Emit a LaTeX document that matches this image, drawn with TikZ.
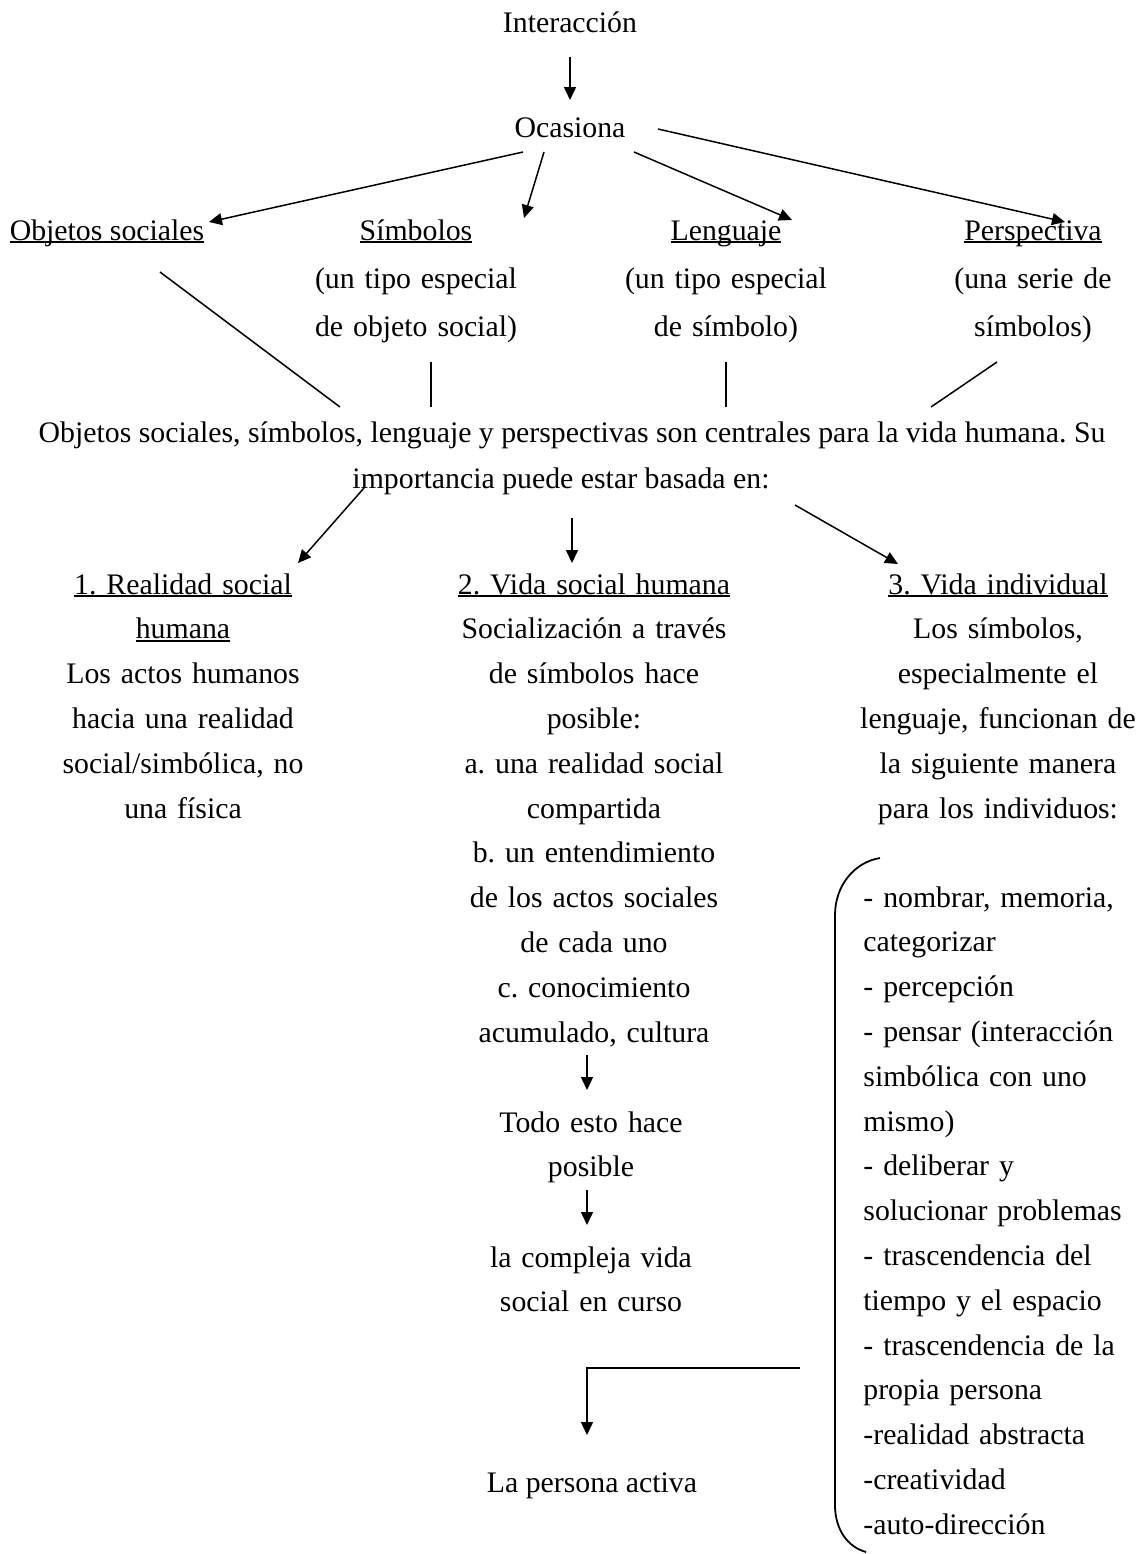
\documentclass[tikz,border=0pt]{standalone}
\usepackage{fontspec}
\setmainfont{Liberation Serif}
\usetikzlibrary{arrows.meta}
\usetikzlibrary{calc}
\frenchspacing

\newcommand{\ulin}[1]{\leavevmode\sbox0{#1}\rlap{\rule[-1.6pt]{\wd0}{0.9pt}}\usebox0}

\tikzset{
  txt/.style={inner sep=0pt, anchor=base, font=\fontsize{14.9}{22.4}\selectfont},
  col/.style={txt, text width=150pt, align=center},
  toprow/.style={col, text width=130pt, font=\fontsize{14.9}{24}\selectfont},
  lista/.style={txt, anchor=base west, text width=140pt, align=left},
  arr/.style={-{Triangle[length=6.5pt,width=6pt]}, line width=0.75pt},
  ln/.style={line width=0.75pt}
}

\begin{document}
\begin{tikzpicture}[x=0.5pt,y=-0.5pt]
        \useasboundingbox (0,0) rectangle (1144,1554);
        \node[txt] (int) at (570,32) {Interacción};
        \node[txt] (oca) at (570,137) {Ocasiona};
        \node[txt] (objs) at (107,240) {\ulin{Objetos sociales}};
        \node[toprow] (simb) at (416,240) {\ulin{Símbolos}\\(un tipo especial\\de objeto social)};
        \node[toprow] (leng) at (726,240) {\ulin{Lenguaje}\\(un tipo especial\\de símbolo)};
        \node[toprow] (persp) at (1033,240) {\ulin{Perspectiva}\\(una serie de\\símbolos)};
        \node[txt] (main1) at (572,442) {Objetos sociales, símbolos, lenguaje y perspectivas son centrales para la vida humana. Su};
        \node[txt] (main2) at (561,488) {importancia puede estar basada en:};
        \node[col] (c1) at (183,594) {\ulin{1. Realidad social}\\\ulin{humana}\\Los actos humanos\\hacia una realidad\\social/simbólica, no\\una física};
        \node[col] (c2) at (594,594) {\ulin{2. Vida social humana}\\Socialización a través\\de símbolos hace\\posible:\\a. una realidad social\\compartida\\b. un entendimiento\\de los actos sociales\\de cada uno\\c. conocimiento\\acumulado, cultura};
        \node[col] (c3) at (998,594) {\ulin{3. Vida individual}\\Los símbolos,\\especialmente el\\lenguaje, funcionan de\\la siguiente manera\\para los individuos:};
        \node[lista] (lst) at (863,907) {- nombrar, memoria,\\categorizar\\- percepción\\- pensar (interacción\\simbólica con uno\\mismo)\\- deliberar y\\solucionar problemas\\- trascendencia del\\tiempo y el espacio\\- trascendencia de la\\propia persona\\-realidad abstracta\\-creatividad\\-auto-dirección};
        \node[col] (todo) at (591,1132) {Todo esto hace\\posible};
        \node[col] (comp) at (591,1267) {la compleja vida\\social en curso};
        \node[txt] (pers) at (592,1492) {La persona activa};

        \draw[arr] ($(int.base)+(0,25)$) -- ($(oca.base)+(0,-37)$);
        \draw[arr] ($(oca.base)+(-47,15)$) -- ($(objs.base)+(102,-18)$);
        \draw[arr] ($(oca.base)+(-26,15)$) -- ($(simb.base)+(108,-22)$);
        \draw[arr] ($(oca.base)+(64,15)$) -- ($(leng.base)+(66,-20)$);
        \draw[arr] ($(oca.base)+(88,-8)$) -- ($(persp.base)+(32,-18)$);

        \draw[ln] ($(objs.base)+(53,32)$) -- ($(main1.base)+(-232,-35)$);
        \draw[ln] ($(simb.base)+(15,122)$) -- ($(main1.base)+(-141,-35)$);
        \draw[ln] ($(leng.base)+(0,122)$) -- ($(main1.base)+(154,-35)$);
        \draw[ln] ($(persp.base)+(-36,122)$) -- ($(main1.base)+(359,-35)$);

        \draw[arr] ($(main2.base)+(-197,0)$) -- ($(c1.base)+(115,-31)$);
        \draw[arr] ($(main2.base)+(11,30)$) -- ($(c2.base)+(-22,-31)$);
        \draw[arr] ($(main2.base)+(234,17)$) -- ($(c3.base)+(-100,-30)$);

        \draw[arr] ($(todo.base)+(-4,-77)$) -- ($(todo.base)+(-4,-42)$);
        \draw[arr] ($(comp.base)+(-4,-77)$) -- ($(comp.base)+(-4,-42)$);
        \draw[arr] ($(pers.base)+(208,-124)$) -| ($(pers.base)+(-5,-57)$);

        \draw[line width=0.9pt] (880,858) .. controls (855,862) and (835,885) .. (835,915) -- (835,1505) .. controls (835,1530) and (848,1547) .. (866,1552);
    \end{tikzpicture}
\end{document}
